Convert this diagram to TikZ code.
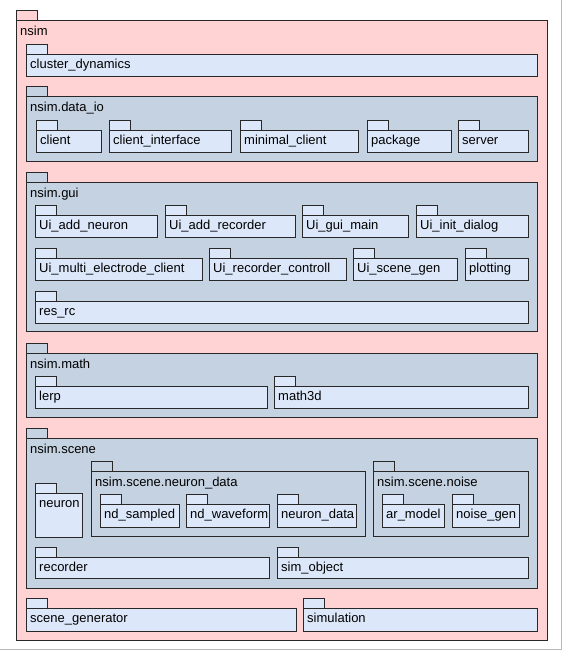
\documentclass[tikz,border=0pt]{standalone}
\usepackage{fontspec}
\setmainfont{Liberation Sans}
\definecolor{pinkfill}{RGB}{255,211,211}
\definecolor{grpfill}{RGB}{197,210,225}
\definecolor{leaffill}{RGB}{220,232,250}
\definecolor{edge}{RGB}{40,40,40}
\tikzset{
  topbox/.style={draw=edge, line width=1pt, fill=pinkfill},
  grpbox/.style={draw=edge, line width=1pt, fill=grpfill},
  leafbox/.style={draw=edge, line width=1pt, fill=leaffill},
  lbl/.style={anchor=base west, inner sep=0pt, font=\fontsize{13}{15}\selectfont},
}
% #1 style, #2 x1, #3 body top, #4 x2, #5 bottom, #6 node name, #7 label, #8 baseline offset
\newcommand\pkgdraw[8]{%
  \draw[#1] (#2,#3-10) rectangle (#2+21,#3);
  \draw[#1] (#2,#3) rectangle (#4,#5);
  \node[lbl] (#6) at (#2+4,#3+#8) {#7};
}
\begin{document}
\begin{tikzpicture}[x=1pt,y=-1pt]
\useasboundingbox (0,0) rectangle (563,651);
\draw[gray!55, line width=1pt] (561.5,0) -- (561.5,649.5) -- (0,649.5);
% outer package
\pkgdraw{topbox}{16}{20}{547}{640}{nsim}{nsim}{15.5}
\pkgdraw{leafbox}{26}{54}{537}{76}{clusterdyn}{cluster\_dynamics}{14.5}
% data_io
\pkgdraw{grpbox}{26}{96}{537}{161}{dataio}{nsim.data\_io}{15.5}
\pkgdraw{leafbox}{36}{130}{101}{152}{client}{client}{14.5}
\pkgdraw{leafbox}{109}{130}{231}{152}{clientif}{client\_interface}{14.5}
\pkgdraw{leafbox}{240}{130}{358}{152}{minclient}{minimal\_client}{14.5}
\pkgdraw{leafbox}{367}{130}{451}{152}{package}{package}{14.5}
\pkgdraw{leafbox}{458}{130}{528}{152}{server}{server}{14.5}
% gui
\pkgdraw{grpbox}{26}{182}{537}{331}{gui}{nsim.gui}{15.5}
\pkgdraw{leafbox}{35}{215}{157}{237}{uiaddneuron}{Ui\_add\_neuron}{14.5}
\pkgdraw{leafbox}{165}{215}{295}{237}{uiaddrec}{Ui\_add\_recorder}{14.5}
\pkgdraw{leafbox}{302}{215}{408}{237}{uiguimain}{Ui\_gui\_main}{14.5}
\pkgdraw{leafbox}{416}{215}{528}{237}{uiinit}{Ui\_init\_dialog}{14.5}
\pkgdraw{leafbox}{35}{258}{202}{280}{uimulti}{Ui\_multi\_electrode\_client}{14.5}
\pkgdraw{leafbox}{209}{258}{346}{280}{uireccon}{Ui\_recorder\_controll}{14.5}
\pkgdraw{leafbox}{353}{258}{457}{280}{uiscene}{Ui\_scene\_gen}{14.5}
\pkgdraw{leafbox}{465}{258}{528}{280}{plotting}{plotting}{14.5}
\pkgdraw{leafbox}{35}{301}{528}{323}{resrc}{res\_rc}{14.5}
% math
\pkgdraw{grpbox}{26}{353}{537}{417}{math}{nsim.math}{15.5}
\pkgdraw{leafbox}{35}{386}{267}{408}{lerp}{lerp}{14.5}
\pkgdraw{leafbox}{274}{386}{528}{408}{mathtd}{math3d}{14.5}
% scene
\pkgdraw{grpbox}{26}{438}{537}{588}{scene}{nsim.scene}{15.5}
\pkgdraw{leafbox}{35}{493}{82}{537}{neuron}{neuron}{14.5}
\pkgdraw{grpbox}{91}{471}{365}{536}{nrndata}{nsim.scene.neuron\_data}{15.5}
\pkgdraw{leafbox}{100}{504}{179}{527}{ndsampled}{nd\_sampled}{14.5}
\pkgdraw{leafbox}{186}{504}{269}{527}{ndwave}{nd\_waveform}{14.5}
\pkgdraw{leafbox}{277}{504}{356}{527}{neurondata}{neuron\_data}{14.5}
\pkgdraw{grpbox}{373}{471}{528}{536}{noise}{nsim.scene.noise}{15.5}
\pkgdraw{leafbox}{382}{504}{444}{527}{armodel}{ar\_model}{14.5}
\pkgdraw{leafbox}{452}{504}{519}{527}{noisegen}{noise\_gen}{14.5}
\pkgdraw{leafbox}{35}{557}{269}{578}{recorder}{recorder}{14.5}
\pkgdraw{leafbox}{277}{557}{528}{578}{simobject}{sim\_object}{14.5}
% bottom row
\pkgdraw{leafbox}{26}{608}{296}{631}{scenegen}{scene\_generator}{14.5}
\pkgdraw{leafbox}{303}{608}{537}{631}{simulation}{simulation}{14.5}
\end{tikzpicture}
\end{document}
